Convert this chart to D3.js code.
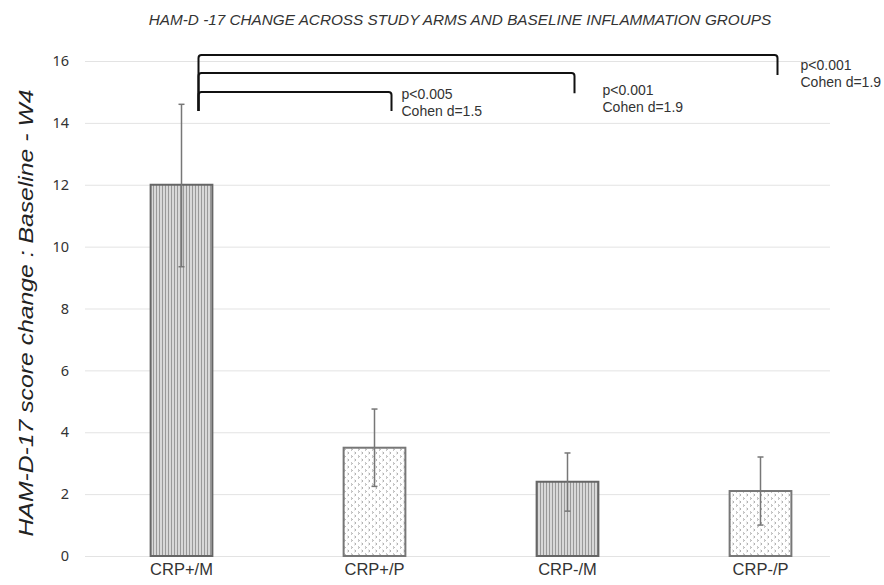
<!DOCTYPE html>
<html>
<head>
<meta charset="utf-8">
<script src="https://cdn.jsdelivr.net/npm/d3@7"></script>
<style>
  body { margin: 0; background: #fff; }
  .grid line { stroke: #e3e3e3; stroke-width: 1; }
  .grid path { display: none; }
  .axis--y text { font-family: "Noto Sans", sans-serif; font-size: 14.5px; fill: #333; }
  .axis--x text { font-family: "Liberation Sans", Arial, sans-serif; font-size: 16.5px; fill: #333; }
  .note { font-family: "Liberation Sans", Arial, sans-serif; font-size: 14px; fill: #333; }
</style>
</head>
<body>
<svg width="884" height="585"></svg>
<script>
// chart data
const categories = ["CRP+/M", "CRP+/P", "CRP-/M", "CRP-/P"];
const means = [12.0, 3.5, 2.4, 2.1];
const errLow = [9.35, 2.25, 1.45, 1.0];
const errHigh = [14.6, 4.75, 3.33, 3.2];
const fills = ["stripes", "dots", "stripes", "dots"];
const yTicks = [0, 2, 4, 6, 8, 10, 12, 14, 16];

// comparison brackets: from bar 0 to bar compTo[i]
const compTo = [1, 2, 3];
const compLevel = [15.0, 15.61, 16.19];
const compDrop = [14.38, 14.96, 15.55];
const compP = ["p<0.005", "p<0.001", "p<0.001"];
const compD = ["Cohen d=1.5", "Cohen d=1.9", "Cohen d=1.9"];
const compLabelY = [14.77, 14.9, 15.71];

const svg = d3.select("svg");

let x = d3.scaleBand().domain(categories).range([85, 857]).paddingInner(0.68).paddingOuter(0.34);
let y = d3.scaleLinear().domain([0, 16]).range([556, 61]);

// patterns
let defs = svg.append("defs");
let st = defs.append("pattern").attr("id", "stripes")
    .attr("patternUnits", "userSpaceOnUse").attr("width", 3).attr("height", 4);
st.append("rect").attr("width", 3).attr("height", 4).attr("fill", "#d8d8d8");
st.append("rect").attr("width", 1).attr("height", 4).attr("fill", "#999");

let dt = defs.append("pattern").attr("id", "dots")
    .attr("patternUnits", "userSpaceOnUse").attr("width", 7).attr("height", 7);
dt.append("rect").attr("width", 7).attr("height", 7).attr("fill", "#fff");
dt.append("path").attr("d", "M1,0.5 L2.5,1.5 L1,2.5").attr("stroke", "#a8a8a8").attr("fill", "none").attr("stroke-width", 1);
dt.append("path").attr("d", "M4.5,4 L6,5 L4.5,6").attr("stroke", "#a8a8a8").attr("fill", "none").attr("stroke-width", 1);

// title
svg.append("text")
    .attr("x", 460).attr("y", 25)
    .attr("text-anchor", "middle")
    .style("font-family", "Liberation Sans, Arial, sans-serif")
    .style("font-size", "15.3px").style("font-style", "italic").style("fill", "#333")
    .text("HAM-D -17 CHANGE ACROSS  STUDY ARMS AND BASELINE INFLAMMATION GROUPS");

// y gridlines
svg.append("g")
    .attr("class", "grid")
    .attr("transform", "translate(85,0)")
    .call(d3.axisLeft(y).tickValues(yTicks).tickSize(-745).tickFormat(""));

// y tick labels
svg.append("g")
    .attr("class", "axis axis--y")
    .attr("transform", "translate(72,0)")
    .call(d3.axisLeft(y).tickValues(yTicks).tickSize(0))
    .call(g => g.select(".domain").remove());

// y axis title
svg.append("text")
    .attr("transform", "translate(33,313) rotate(-90)")
    .attr("text-anchor", "middle")
    .attr("textLength", 447).attr("lengthAdjust", "spacingAndGlyphs")
    .style("font-family", "Liberation Sans, Arial, sans-serif")
    .style("font-size", "21px").style("font-style", "italic").style("fill", "#222")
    .text("HAM-D-17 score change : Baseline - W4");

// x labels
svg.append("g")
    .attr("class", "axis axis--x")
    .attr("transform", "translate(0,560)")
    .call(d3.axisBottom(x).tickSize(0))
    .call(g => g.select(".domain").remove());

// bars
svg.selectAll(".bar")
    .data(categories)
    .enter().append("rect")
    .attr("class", "bar")
    .attr("x", d => x(d))
    .attr("width", x.bandwidth())
    .attr("y", (d, i) => y(means[i]))
    .attr("height", (d, i) => y(0) - y(means[i]))
    .attr("fill", (d, i) => "url(#" + fills[i] + ")")
    .attr("stroke", (d, i) => fills[i] == "stripes" ? "#666" : "#777")
    .attr("stroke-width", 2);

// error bars
let eb = svg.append("g").attr("stroke", "#777").attr("stroke-width", 1.5);
categories.forEach((c, i) => {
    let cx = x(c) + x.bandwidth() / 2;
    eb.append("line").attr("x1", cx).attr("x2", cx).attr("y1", y(errLow[i])).attr("y2", y(errHigh[i]));
    eb.append("line").attr("x1", cx - 3).attr("x2", cx + 3).attr("y1", y(errLow[i])).attr("y2", y(errLow[i]));
    eb.append("line").attr("x1", cx - 3).attr("x2", cx + 3).attr("y1", y(errHigh[i])).attr("y2", y(errHigh[i]));
});

// brackets
let bracketDx = [17, 7, 17];
let labelDx = [10, 28, 23];
let x0 = x(categories[0]) + x.bandwidth() / 2 + 17;
let br = svg.append("g").attr("fill", "none").attr("stroke", "#111").attr("stroke-width", 2);
compTo.forEach((t, i) => {
    let x1 = x(categories[t]) + x.bandwidth() / 2 + bracketDx[i];
    let ly = y(compLevel[i]);
    br.append("path")
        .attr("d", "M" + x0 + "," + y(14.38) + " L" + x0 + "," + (ly + 3) +
            " Q" + x0 + "," + ly + " " + (x0 + 3) + "," + ly +
            " L" + (x1 - 3) + "," + ly +
            " Q" + x1 + "," + ly + " " + x1 + "," + (ly + 3) +
            " L" + x1 + "," + y(compDrop[i]));
    svg.append("text").attr("class", "note")
        .attr("x", x1 + labelDx[i]).attr("y", y(compLabelY[i])).text(compP[i]);
    svg.append("text").attr("class", "note")
        .attr("x", x1 + labelDx[i]).attr("y", y(compLabelY[i]) + 17).text(compD[i]);
});
</script>
</body>
</html>
